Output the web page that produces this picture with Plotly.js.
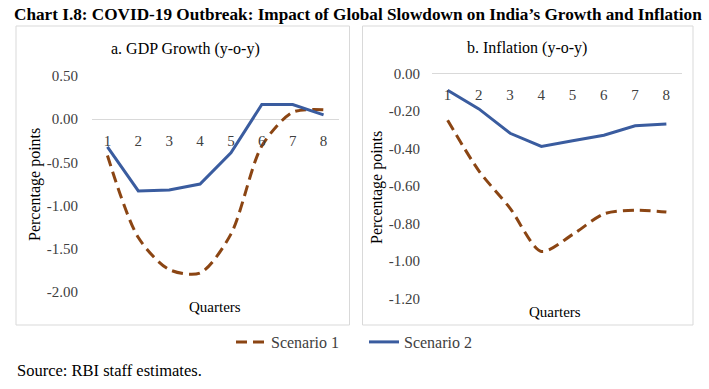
<!DOCTYPE html>
<html>
<head>
<meta charset="utf-8">
<script src="https://cdn.plot.ly/plotly-3.0.1.min.js"></script>
<style>html,body{margin:0;padding:0;background:#fff;}#chart{width:709px;height:389px;}</style>
</head>
<body>
<div id="chart"></div>
<script>
// ---- data ----
var quarters = [1, 2, 3, 4, 5, 6, 7, 8];
var gdpScenario1 = [-0.42, -1.37, -1.74, -1.78, -1.33, -0.31, 0.08, 0.11];
var gdpScenario2 = [-0.32, -0.83, -0.82, -0.75, -0.39, 0.17, 0.17, 0.05];
var infScenario1 = [-0.25, -0.52, -0.72, -0.95, -0.86, -0.75, -0.73, -0.74];
var infScenario2 = [-0.09, -0.19, -0.32, -0.39, -0.36, -0.33, -0.28, -0.27];
var seriesNames = ['Scenario 1', 'Scenario 2'];
var gdpTicks = [0.5, 0, -0.5, -1, -1.5, -2];
var infTicks = [0, -0.2, -0.4, -0.6, -0.8, -1.0, -1.2];

var W = 709, H = 389;
function px(x) { return x / W; }
function py(y) { return 1 - y / H; }

var brown = '#8B4513', blue = '#3A5C9F';
var font = '"Liberation Serif", "Times New Roman", serif';
var tickFont = {family: font, size: 15, color: '#404040'};
var dashPattern = '11px,6px';

// plot areas (pixel positions)
var L = {x0: 92, x1: 339, yTop: 76, yBot: 292, rng: [-2, 0.5]};
var R = {x0: 432, x1: 682, yTop: 73.3, yBot: 298.3, rng: [-1.2, 0]};
function zeroPos(p) { var f = (0 - p.rng[0]) / (p.rng[1] - p.rng[0]); return py(p.yBot) + f * (py(p.yTop) - py(p.yBot)); }

var traces = [
  {x: quarters, y: gdpScenario1, xaxis: 'x', yaxis: 'y', name: seriesNames[0], mode: 'lines',
   line: {color: brown, width: 3, dash: dashPattern, shape: 'spline', smoothing: 0.8}, legendgroup: 's1'},
  {x: quarters, y: gdpScenario2, xaxis: 'x', yaxis: 'y', name: seriesNames[1], mode: 'lines',
   line: {color: blue, width: 3}, legendgroup: 's2'},
  {x: quarters, y: infScenario1, xaxis: 'x2', yaxis: 'y2', name: seriesNames[0], mode: 'lines',
   line: {color: brown, width: 3, dash: dashPattern, shape: 'spline', smoothing: 0.8}, showlegend: false, legendgroup: 's1'},
  {x: quarters, y: infScenario2, xaxis: 'x2', yaxis: 'y2', name: seriesNames[1], mode: 'lines',
   line: {color: blue, width: 3}, showlegend: false, legendgroup: 's2'}
];

function xax(p) {
  return {domain: [px(p.x0), px(p.x1)], range: [0.5, 8.5], anchor: 'free', position: zeroPos(p),
    tickvals: quarters, ticktext: quarters.map(String), showgrid: false, zeroline: false, showline: false,
    ticks: '', tickfont: tickFont, ticklabelstandoff: 11, fixedrange: true};
}
function yax(p, ticks, standoff) {
  return {domain: [py(p.yBot), py(p.yTop)], range: p.rng, tickvals: ticks, anchor: 'free', position: px(p.x0),
    ticktext: ticks.map(function (v) { return v.toFixed(2); }),
    showgrid: false, zeroline: true, zerolinecolor: '#d9d9d9', zerolinewidth: 1, showline: false,
    ticks: '', tickfont: tickFont, ticklabelstandoff: standoff, fixedrange: true};
}

var layout = {
  width: W, height: H, margin: {l: 0, r: 0, t: 0, b: 0},
  paper_bgcolor: '#fff', plot_bgcolor: 'rgba(0,0,0,0)',
  font: {family: font, color: '#000'},
  xaxis: xax(L), yaxis: yax(L, gdpTicks, 14),
  xaxis2: xax(R), yaxis2: yax(R, infTicks, 12),
  showlegend: true,
  legend: {orientation: 'h', x: px(231), xanchor: 'left', y: py(342), yanchor: 'middle',
    font: {family: font, size: 16, color: '#404040'}, bgcolor: 'rgba(0,0,0,0)', tracegroupgap: 0,
    itemwidth: 30, entrywidth: 88, entrywidthmode: 'pixels'},
  shapes: [
    {type: 'rect', xref: 'paper', yref: 'paper', x0: px(16), x1: px(349.5), y0: py(325), y1: py(26),
     line: {color: '#d9d9d9', width: 1}},
    {type: 'rect', xref: 'paper', yref: 'paper', x0: px(362.5), x1: px(693), y0: py(325), y1: py(26),
     line: {color: '#d9d9d9', width: 1}}
  ],
  annotations: [
    {text: '<b>Chart I.8: COVID-19 Outbreak: Impact of Global Slowdown on India\u2019s Growth and Inflation</b>',
     xref: 'paper', yref: 'paper', x: px(12), xanchor: 'left', y: py(14), yanchor: 'middle', showarrow: false,
     font: {family: font, size: 17.2, color: '#000'}},
    {text: 'a. GDP Growth (y-o-y)', xref: 'paper', yref: 'paper', x: px(185), y: py(49), xanchor: 'center', yanchor: 'middle',
     showarrow: false, font: {family: font, size: 16, color: '#000'}},
    {text: 'b. Inflation (y-o-y)', xref: 'paper', yref: 'paper', x: px(527), y: py(48), xanchor: 'center', yanchor: 'middle',
     showarrow: false, font: {family: font, size: 16, color: '#000'}},
    {text: 'Percentage points', xref: 'paper', yref: 'paper', x: px(35), y: py(185), textangle: -90, xanchor: 'center', yanchor: 'middle',
     showarrow: false, font: {family: font, size: 16, color: '#000'}},
    {text: 'Percentage points', xref: 'paper', yref: 'paper', x: px(377), y: py(187), textangle: -90, xanchor: 'center', yanchor: 'middle',
     showarrow: false, font: {family: font, size: 16, color: '#000'}},
    {text: 'Quarters', xref: 'paper', yref: 'paper', x: px(215), y: py(307), xanchor: 'center', yanchor: 'middle',
     showarrow: false, font: {family: font, size: 15, color: '#000'}},
    {text: 'Quarters', xref: 'paper', yref: 'paper', x: px(555), y: py(312), xanchor: 'center', yanchor: 'middle',
     showarrow: false, font: {family: font, size: 15, color: '#000'}},
    {text: 'Source: RBI staff estimates.', xref: 'paper', yref: 'paper', x: px(15), y: py(370), xanchor: 'left', yanchor: 'middle',
     showarrow: false, font: {family: font, size: 16.5, color: '#000'}}
  ]
};

Plotly.newPlot('chart', traces, layout, {displayModeBar: false, staticPlot: true});
</script>
</body>
</html>
